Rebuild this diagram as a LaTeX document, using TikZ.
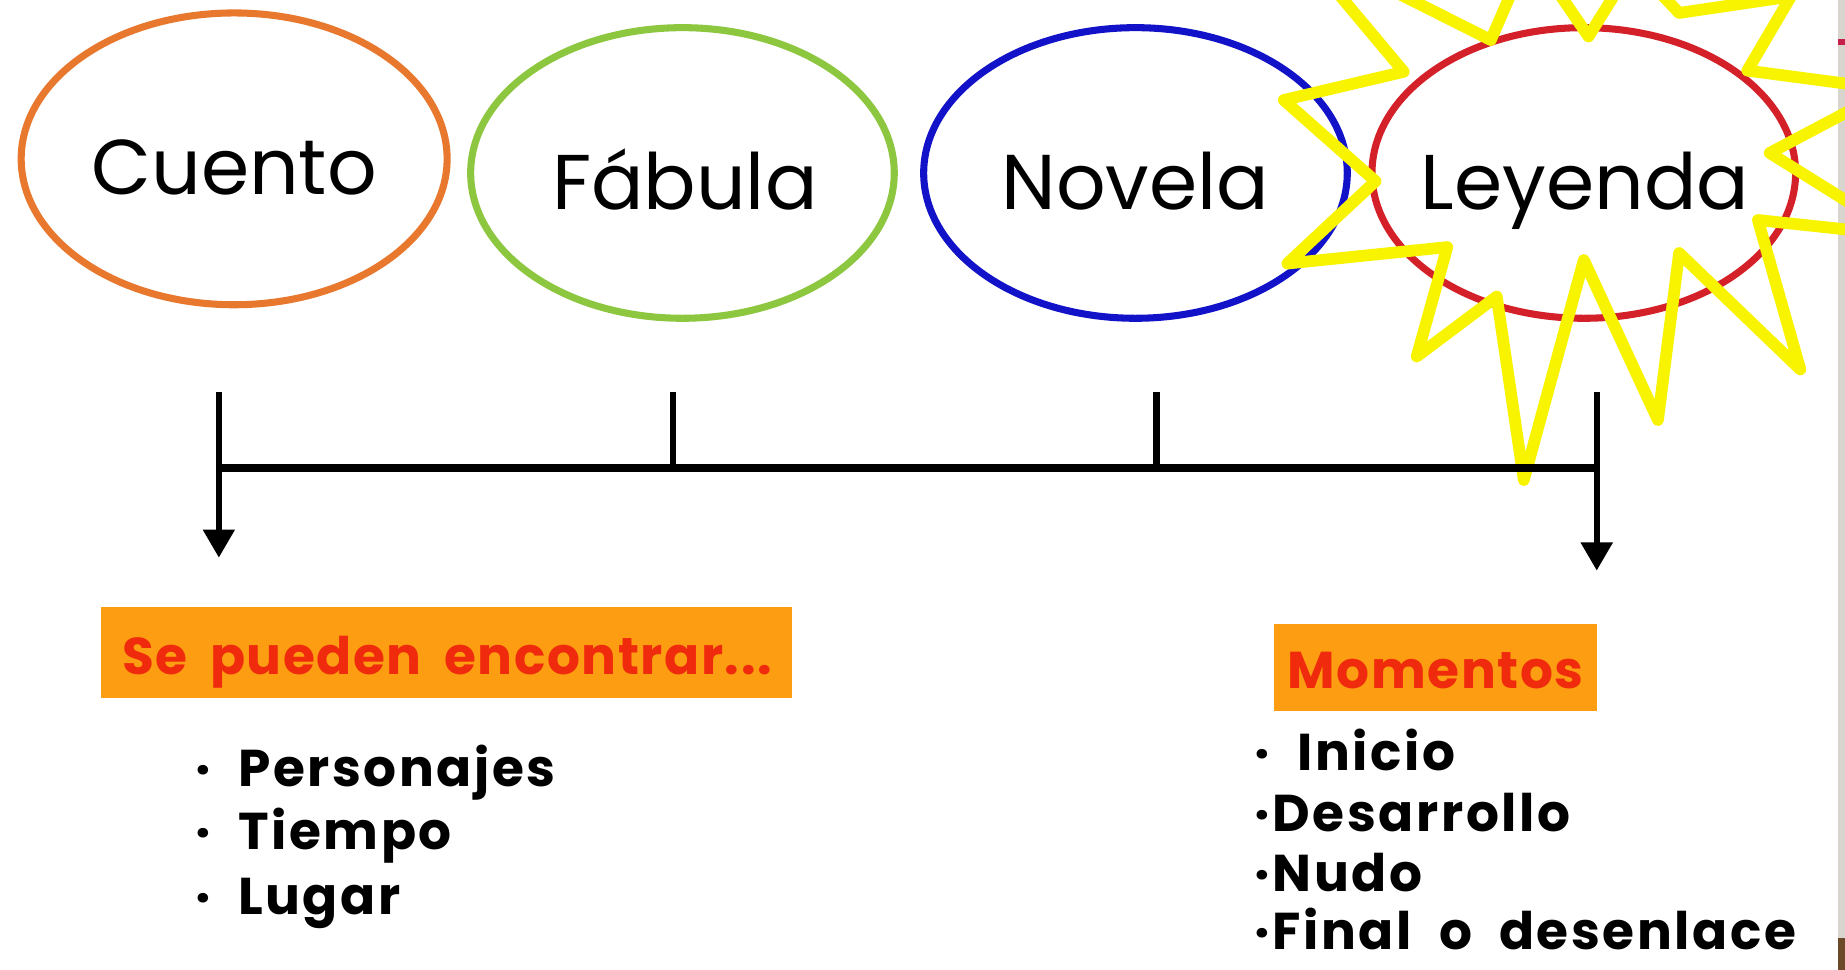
\documentclass[tikz,border=0pt]{standalone}
\usepackage{fontspec}
\setmainfont{Poppins}
\newfontfamily\headfont[LetterSpace=3,WordSpace=1.8]{Poppins}
\newfontfamily\itemfont[LetterSpace=5,WordSpace=2]{Poppins}
\usetikzlibrary{shapes.geometric,arrows.meta}
\definecolor{cOrange}{HTML}{E8782E}
\definecolor{cGreen}{HTML}{8DC63F}
\definecolor{cBlue}{HTML}{1212C8}
\definecolor{cRed}{HTML}{D42028}
\definecolor{cSun}{HTML}{F8F400}
\definecolor{cBox}{HTML}{FC9D12}
\definecolor{cBoxText}{HTML}{F02A0C}
\definecolor{cStrip}{HTML}{D8D4CE}
\definecolor{cMark}{HTML}{C4204A}
\definecolor{cBrown}{HTML}{6B4A2A}
\begin{document}
\begin{tikzpicture}[x=1pt,y=-1pt,
  oval/.style={ellipse,draw,line width=6pt,minimum width=360pt,minimum height=247pt,inner sep=0pt},
  title/.style={anchor=base,font=\fontsize{66}{70}\selectfont,text=black,inner sep=0pt},
  tl/.style={line width=5.5pt,black},
  hl/.style={line width=7pt,black},
  arr/.style={tl,-{Triangle[width=26pt,length=24pt]}},
  htext/.style={anchor=base,font=\headfont\fontsize{44}{48}\selectfont\bfseries,text=cBoxText,inner sep=0pt},
  item/.style={anchor=base west,font=\itemfont\fontsize{44}{48}\selectfont\bfseries,text=black,inner sep=0pt},
  sun/.style={draw=cSun,line width=10pt,line join=round}
]
\useasboundingbox (0,0) rectangle (1568,824);
\clip (0,0) rectangle (1568,824);
\fill[white] (0,0) rectangle (1568,824);
% side strip
\fill[cStrip] (1562,0) rectangle (1568,824);
\fill[cMark] (1562,33) rectangle (1568,38);
\fill[cBrown] (1562,797) rectangle (1568,824);

% ellipses
\node[oval,draw=cOrange,minimum width=362pt,minimum height=248pt] (cuento) at (199,135) {};
\node[oval,draw=cGreen] (fabula) at (580,147) {};
\node[oval,draw=cBlue] (novela) at (965,147) {};
\node[oval,draw=cRed] (leyenda) at (1346,147) {};

% sun
\draw[sun] (1100,-50) -- (1193,61) -- (1091,85) -- (1169,154) -- (1094,224)
  -- (1230,210) -- (1204,303) -- (1272,252) -- (1295,408) -- (1346,221)
  -- (1409,357) -- (1427,215) -- (1530,314) -- (1494,187) -- (1616,200)
  -- (1504,130) -- (1606,76) -- (1485,60) -- (1522,-3) -- (1427,11)
  -- (1388,-30) -- (1350,31) -- (1300,-42) -- (1267,34) -- cycle;

% labels
\node[title] (tCuento) at (199,165) {Cuento};
\node[title] (tFabula) at (582,178) {Fábula};
\node[title] (tNovela) at (965,178) {Novela};
\node[title] (tLeyenda) at (1347,178) {Leyenda};

% timeline
\coordinate (a0) at (186,333);
\coordinate (a1) at (186,398);
\coordinate (a2) at (186,474);
\coordinate (b0) at (572,333);
\coordinate (b1) at (572,398);
\coordinate (c0) at (983,333);
\coordinate (c1) at (983,398);
\coordinate (d0) at (1357,333);
\coordinate (d1) at (1357,398);
\coordinate (d2) at (1357,485);
\draw[hl] (a1) -- (d1);
\draw[tl] (b0) -- (b1);
\draw[tl] (c0) -- (c1);
\draw[arr] (a0) -- (a2);
\draw[arr] (d0) -- (d2);

% boxes
\fill[cBox] (86,516) rectangle (673,593);
\node[htext] (hSe) at (380,573) {Se pueden encontrar...};
\fill[cBox] (1083,530) rectangle (1357,604);
\node[htext] (hMom) at (1220,585) {Momentos};

% lists
\node[item] (i1) at (166,668) {· Personajes};
\node[item] (i2) at (166,722) {· Tiempo};
\node[item] (i3) at (166,777) {· Lugar};
\node[item] (j1) at (1066,655) {· Inicio};
\node[item] (j2) at (1066,707) {·Desarrollo};
\node[item] (j3) at (1066,758) {·Nudo};
\node[item,text depth=0pt] (j4) at (1066,807) {·Final o desenlace};
\end{tikzpicture}
\end{document}
